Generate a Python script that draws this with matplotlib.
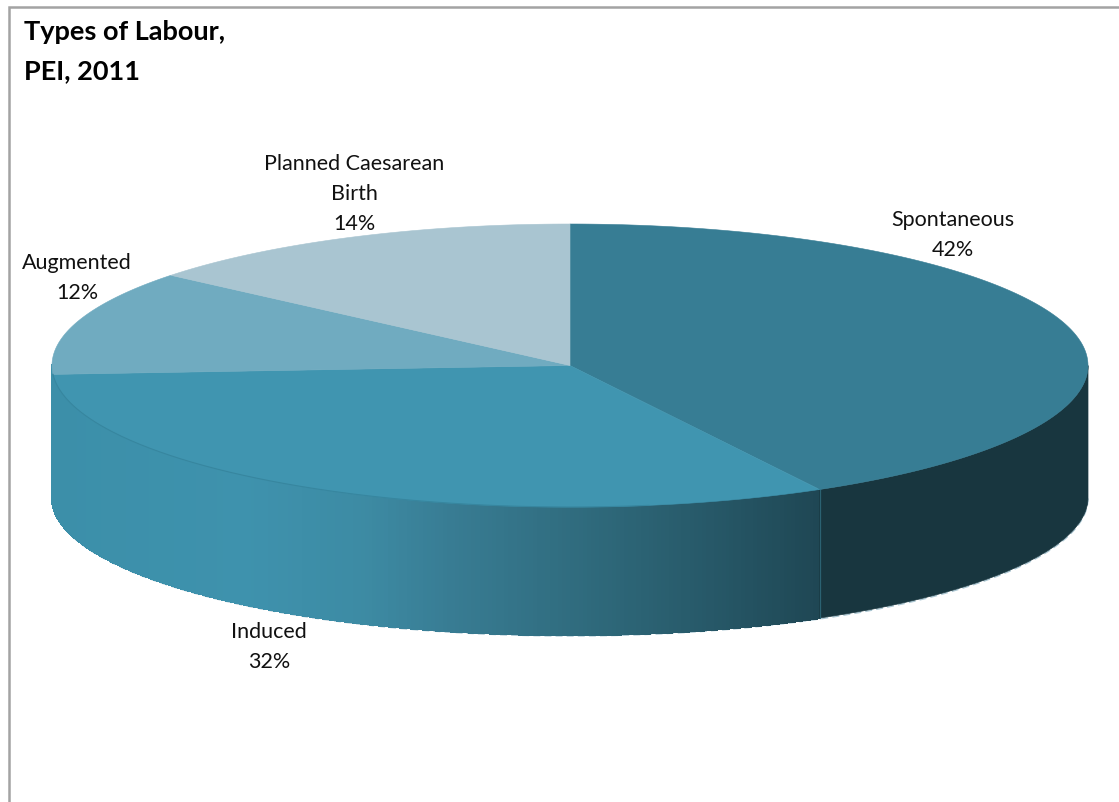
import numpy as np
import matplotlib
matplotlib.use('Agg')
import matplotlib.pyplot as plt
from matplotlib.collections import PolyCollection
from matplotlib.colors import LinearSegmentedColormap
from matplotlib.patches import Polygon

labels = ['Spontaneous', 'Induced', 'Augmented', 'Planned Caesarean\nBirth']
shares = [42, 32, 12, 14]
top_colors = ['#377d94', '#4095b0', '#70abc0', '#a9c5d1']

# pixel geometry of the disc; the lower rim is a touch flatter than the top
CX, CY = 570, 365.5
RX, RY = 518, 141.5
LOW_CY, LOW_RY = 497.5, 137.5

# label centres, one per slice
label_pos = [(953, 235), (269, 647), (77, 278), (354, 194)]

plt.rcParams['font.family'] = ['Lato', 'DejaVu Sans']

fig = plt.figure(figsize=(11.19, 8.02), dpi=100)
ax = fig.add_axes([0, 0, 1, 1])
ax.set_xlim(0, 1119)
ax.set_ylim(802, 0)
ax.axis('off')


def rim(theta):
    """Point on the top ellipse, theta clockwise from 12 o'clock."""
    return CX + RX * np.sin(theta), CY - RY * np.cos(theta)


def low_rim(theta):
    return CX + RX * np.sin(theta), LOW_CY - LOW_RY * np.cos(theta)


def wedge(start, end):
    theta = np.linspace(start, end, 200)
    x, y = rim(theta)
    return np.column_stack([np.r_[CX, x], np.r_[CY, y]])


edges = 2 * np.pi * np.cumsum([0] + shares) / sum(shares)

# chart frame: only top and left are visible
ax.plot([9, 9, 1119], [802, 7, 7], color='#a3a3a3', lw=1.8, solid_joinstyle='miter')

# pale rim peeking out under the wall
theta = np.linspace(np.pi / 2, 3 * np.pi / 2, 300)
x, y = low_rim(theta)
ax.plot(x, y + 1, color='#a9c5d1', lw=1.0, dashes=(5, 3), zorder=1)

# side wall of the induced slice, shaded dark on the right to light on the left
wall_cmap = LinearSegmentedColormap.from_list('wall', [
    (0.0, '#3c8fa9'), (0.25, '#3e92ad'), (0.4, '#3d8ba4'), (0.52, '#387c93'),
    (0.7, '#2f6a7c'), (0.85, '#275969'), (1.0, '#1f4754')])
theta = np.linspace(edges[1], 3 * np.pi / 2, 260)
x, y = rim(theta)
lx, ly = low_rim(theta)
quads = [[(x[i], y[i]), (x[i + 1], y[i + 1]), (lx[i + 1], ly[i + 1]), (lx[i], ly[i])]
         for i in range(len(x) - 1)]
mid = (x[:-1] + x[1:]) / 2
shade = wall_cmap((mid - x[-1]) / (x[0] - x[-1]))
ax.add_collection(PolyCollection(quads, facecolors=shade, edgecolors=shade, linewidths=1.0,
                                 antialiased=False, zorder=2))

# side wall of the spontaneous slice, flat dark tone
theta = np.linspace(np.pi / 2, edges[1], 200)
x, y = rim(theta)
lx, ly = low_rim(theta)
outline = np.column_stack([np.r_[x, lx[::-1]], np.r_[y, ly[::-1]]])
ax.add_patch(Polygon(outline, closed=True, fc='#18363f', ec='#18363f', lw=0.5, zorder=3))

# seam between the two walls
x0, y0 = rim(edges[1])
_, y1 = low_rim(edges[1])
ax.plot([x0, x0], [y0, y1], color='#2b6272', lw=0.9, zorder=4)

# top face
for start, end, color in zip(edges[:-1], edges[1:], top_colors):
    ax.add_patch(Polygon(wedge(start, end), closed=True, fc=color, ec=color, lw=0.4, zorder=5))

# thin darker line where the induced top meets its wall
theta = np.linspace(edges[1] + 0.35, edges[2], 200)
x, y = rim(theta)
ax.plot(x, y, color='#37869f', lw=0.8, zorder=6)

for name, share, (px, py) in zip(labels, shares, label_pos):
    ax.text(px, py, f'{name}\n{share}%', ha='center', va='center', fontsize=15.5,
            color='#111111', linespacing=1.62, zorder=7)

ax.text(24, 31.5, 'Types of Labour,', fontsize=19.5, fontweight='bold', color='black', va='center')
ax.text(24, 71.5, 'PEI, 2011', fontsize=19.5, fontweight='bold', color='black', va='center')

fig.savefig('out.png', dpi=100, facecolor='white')
